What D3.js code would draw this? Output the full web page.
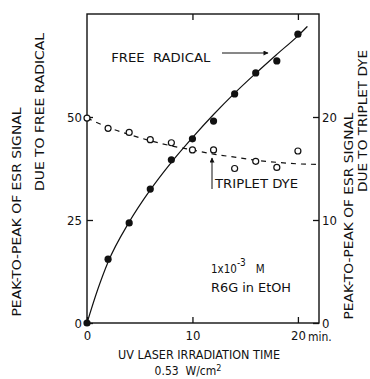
<!DOCTYPE html>
<html>
<head>
<meta charset="utf-8">
<script src="https://cdn.jsdelivr.net/npm/d3@7"></script>
<style>
  body { margin: 0; background: #fff; }
  svg { display: block; }
  text { font-family: "Liberation Sans Narrow", "DejaVu Sans Condensed", sans-serif; fill: #111; }
</style>
</head>
<body>
<svg width="370" height="379"></svg>
<script>
const width = 370, height = 379;

// irradiation time (min.)
const times = [0, 2, 4, 6, 8, 10, 12, 14, 16, 18, 20];
// ESR signal due to free radical (left axis)
const freeRadical = [0, 15.5, 24.3, 32.5, 39.6, 44.7, 49.0, 55.6, 60.7, 63.6, 70.1];
// ESR signal due to triplet dye (right axis)
const tripletDye = [19.9, 18.9, 18.5, 17.8, 17.5, 16.8, 16.8, 15.0, 15.7, 15.1, 16.7];

// hand drawn fit curves
const freeFitTimes = [0, 1, 2, 4, 6, 8, 10, 12, 14, 16, 18, 20, 20.9];
const freeFit = [0, 8, 14.8, 24.5, 32.3, 39, 45, 50.6, 55.8, 60.6, 65.2, 69.7, 72];
const tripletFitTimes = [0, 2, 4, 6, 8, 10, 12, 14, 16, 18, 20, 22];
const tripletFit = [19.9, 19.0, 18.3, 17.7, 17.2, 16.8, 16.4, 16.1, 15.8, 15.6, 15.45, 15.4];

const xTicks = [0, 10, 20];
const leftTicks = [0, 25, 50];
const rightTicks = [0, 10, 20];

const margin = { top: 14, right: 51, bottom: 56, left: 87 };
const svg = d3.select("svg");

const x = d3.scaleLinear().domain([0, 22]).range([margin.left, width - margin.right]);
const yL = d3.scaleLinear().domain([0, 75]).range([height - margin.bottom, margin.top]);
const yR = d3.scaleLinear().domain([0, 30]).range([height - margin.bottom, margin.top]);

const ink = "#111";

// defs for arrowheads
svg.append("defs").append("marker")
  .attr("id", "arr")
  .attr("viewBox", "0 0 10 10")
  .attr("refX", 9).attr("refY", 5)
  .attr("markerWidth", 7).attr("markerHeight", 5)
  .attr("orient", "auto")
  .append("path")
  .attr("d", "M0,0 L10,5 L0,10 z")
  .attr("fill", ink);

// frame
svg.append("rect")
  .attr("x", x(0)).attr("y", yL(75))
  .attr("width", x(22) - x(0))
  .attr("height", yL(0) - yL(75))
  .attr("fill", "none")
  .attr("stroke", ink)
  .attr("stroke-width", 1.4);

// axes (ticks point inside)
function styleAxis(g, size) {
  g.select(".domain").remove();
  g.selectAll("line").attr("stroke", ink).attr("stroke-width", 1.3);
  g.selectAll("text").attr("font-size", size).attr("fill", ink)
    .style("font-family", '"Liberation Sans Narrow", "DejaVu Sans Condensed", sans-serif');
}

svg.append("g")
  .attr("transform", `translate(0,${yL(0)})`)
  .call(d3.axisBottom(x).tickValues(xTicks).tickSizeInner(-6).tickSizeOuter(0).tickPadding(8))
  .call(g => styleAxis(g, 13));

svg.append("g")
  .attr("transform", `translate(0,${yL(75)})`)
  .call(d3.axisTop(x).tickValues([10, 20]).tickSizeInner(-6).tickSizeOuter(0).tickFormat(""))
  .call(g => styleAxis(g, 13));

svg.append("g")
  .attr("transform", `translate(${x(0)},0)`)
  .call(d3.axisLeft(yL).tickValues(leftTicks).tickSizeInner(-6).tickSizeOuter(0).tickPadding(5))
  .call(g => styleAxis(g, 13));

svg.append("g")
  .attr("transform", `translate(${x(22)},0)`)
  .call(d3.axisRight(yR).tickValues(rightTicks).tickSizeInner(-6).tickSizeOuter(0).tickPadding(3))
  .call(g => styleAxis(g, 13));

svg.append("text")
  .attr("x", x(20) + 10).attr("y", yL(0) + 18)
  .attr("font-size", 12)
  .text("min.");

// fit curves
const lineL = d3.line().x(d => x(d[0])).y(d => yL(d[1])).curve(d3.curveMonotoneX);
const lineR = d3.line().x(d => x(d[0])).y(d => yR(d[1])).curve(d3.curveMonotoneX);

svg.append("path")
  .attr("d", lineL(d3.zip(freeFitTimes, freeFit)))
  .attr("fill", "none").attr("stroke", ink).attr("stroke-width", 1.2);

svg.append("path")
  .attr("d", lineR(d3.zip(tripletFitTimes, tripletFit)))
  .attr("fill", "none").attr("stroke", ink).attr("stroke-width", 1.2)
  .attr("stroke-dasharray", "5,5");

// points
svg.append("g").selectAll("circle")
  .data(d3.zip(times, freeRadical))
  .join("circle")
  .attr("cx", d => x(d[0])).attr("cy", d => yL(d[1]))
  .attr("r", 3.6).attr("fill", ink);

svg.append("g").selectAll("circle")
  .data(d3.zip(times, tripletDye))
  .join("circle")
  .attr("cx", d => x(d[0])).attr("cy", d => yR(d[1]))
  .attr("r", 3).attr("fill", "#fff")
  .attr("stroke", ink).attr("stroke-width", 1.2);

// annotations
svg.append("text")
  .attr("x", x(2.3)).attr("y", 62)
  .attr("font-size", 13)
  .attr("textLength", 99).attr("lengthAdjust", "spacingAndGlyphs")
  .attr("xml:space", "preserve")
  .text("FREE  RADICAL");

svg.append("line")
  .attr("x1", 222).attr("y1", 53).attr("x2", 268).attr("y2", 53)
  .attr("stroke", ink).attr("stroke-width", 1)
  .attr("marker-end", "url(#arr)");

svg.append("text")
  .attr("x", 215).attr("y", 188)
  .attr("font-size", 12.5)
  .attr("textLength", 83).attr("lengthAdjust", "spacingAndGlyphs")
  .text("TRIPLET DYE");

svg.append("line")
  .attr("x1", 212).attr("y1", 189).attr("x2", 212).attr("y2", 158)
  .attr("stroke", ink).attr("stroke-width", 1)
  .attr("marker-end", "url(#arr)");

const conc = svg.append("text")
  .attr("x", 211).attr("y", 273)
  .attr("font-size", 11.5);
conc.append("tspan").text("1x10");
conc.append("tspan").attr("dy", -7).attr("font-size", 10).text("-3");
conc.append("tspan").attr("dy", 7).attr("dx", 10).text("M");

svg.append("text")
  .attr("x", 211).attr("y", 292)
  .attr("font-size", 11.5)
  .attr("textLength", 80).attr("lengthAdjust", "spacingAndGlyphs")
  .text("R6G in EtOH");

// x title
svg.append("text")
  .attr("x", 199).attr("y", 359)
  .attr("text-anchor", "middle")
  .attr("font-size", 12)
  .attr("textLength", 162).attr("lengthAdjust", "spacingAndGlyphs")
  .text("UV LASER IRRADIATION TIME");

const unit = svg.append("text")
  .attr("x", 188).attr("y", 375)
  .attr("text-anchor", "middle")
  .attr("font-size", 12);
unit.append("tspan").text("0.53  W/cm");
unit.append("tspan").attr("dy", -4).attr("font-size", 9).text("2");
unit.attr("xml:space", "preserve");

// rotated axis titles
function vLabel(cx, cy, len, txt, size) {
  svg.append("text")
    .attr("transform", `translate(${cx},${cy}) rotate(-90)`)
    .attr("text-anchor", "middle")
    .attr("dy", "0.36em")
    .attr("font-size", size)
    .attr("textLength", len).attr("lengthAdjust", "spacingAndGlyphs")
    .text(txt);
}
vLabel(16, 212, 209, "PEAK-TO-PEAK OF ESR SIGNAL", 12.5);
vLabel(39, 112, 158, "DUE TO FREE RADICAL", 12.5);
vLabel(348, 216, 207, "PEAK-TO-PEAK OF ESR SIGNAL", 12.5);
vLabel(363, 121, 142, "DUE TO TRIPLET DYE", 11.5);
</script>
</body>
</html>
